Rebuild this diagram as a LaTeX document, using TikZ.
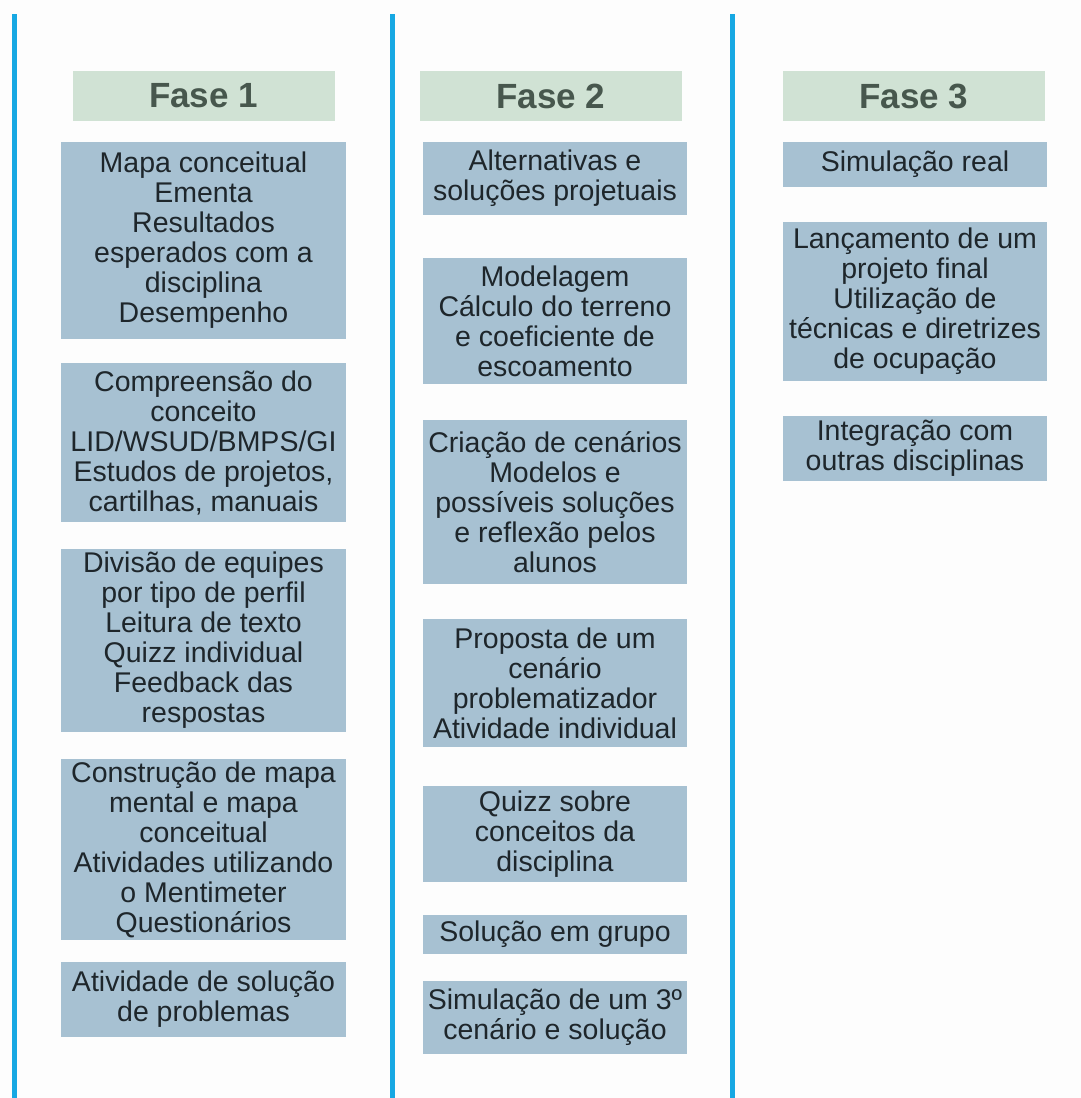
\documentclass[tikz,border=0pt]{standalone}
\usepackage{fontspec}
\setmainfont{Liberation Sans}
\definecolor{pagebg}{HTML}{FDFDFD}
\definecolor{divline}{HTML}{17A8E3}
\definecolor{headfill}{HTML}{D0E2D4}
\definecolor{headtext}{HTML}{47574D}
\definecolor{boxfill}{HTML}{A7C1D2}
\definecolor{boxtext}{HTML}{1E262B}

\begin{document}
\begin{tikzpicture}[x=1pt, y=-1pt,
    fasehead/.style={fill=headfill, text=headtext, font=\fontsize{35}{38}\selectfont\bfseries,
        minimum width=262pt, minimum height=50pt, inner sep=0pt},
    etapa/.style={fill=boxfill, text=boxtext, font=\fontsize{28.5}{30}\selectfont,
        align=center, inner sep=0pt}]
        % Page
        \fill[pagebg] (0,0) rectangle (1081,1098);
        \useasboundingbox (0,0) rectangle (1081,1098);

        % Column dividers
        \foreach \x in {14.5,392.5,732} {
            \draw[line width=5pt, divline] (\x,14) -- (\x,1098);
        }

        % Headers
        \node[fasehead] (fase1) at (203.5,96) {Fase 1};
        \node[fasehead] (fase2) at (551,96) {Fase 2};
        \node[fasehead] (fase3) at (914,96) {Fase 3};

        % Fase 1
        \node[etapa, minimum width=285pt, minimum height=197pt] (f1a) at (203.5,240.5)
            {Mapa conceitual\\Ementa\\Resultados\\esperados com a\\disciplina\\Desempenho};
        \node[etapa, minimum width=285pt, minimum height=159pt] (f1b) at (203.5,442.5)
            {Compreensão do\\conceito\\LID/WSUD/BMPS/GI\\Estudos de projetos,\\cartilhas, manuais};
        \node[etapa, minimum width=285pt, minimum height=183pt] (f1c) at (203.5,640.5)
            {Divisão de equipes\\por tipo de perfil\\Leitura de texto\\Quizz individual\\Feedback das\\respostas};
        \node[etapa, minimum width=285pt, minimum height=181pt] (f1d) at (203.5,849.5)
            {Construção de mapa\\mental e mapa\\conceitual\\Atividades utilizando\\o Mentimeter\\Questionários};
        \node[etapa, minimum width=285pt, minimum height=75pt] (f1e) at (203.5,999.5)
            {Atividade de solução\\de problemas};

        % Fase 2
        \node[etapa, minimum width=264pt, minimum height=73pt] (f2a) at (555,178.5)
            {Alternativas e\\soluções projetuais};
        \node[etapa, minimum width=264pt, minimum height=126pt] (f2b) at (555,321)
            {Modelagem\\Cálculo do terreno\\e coeficiente de\\escoamento};
        \node[etapa, minimum width=264pt, minimum height=164pt] (f2c) at (555,502)
            {Criação de cenários\\Modelos e\\possíveis soluções\\e reflexão pelos\\alunos};
        \node[etapa, minimum width=264pt, minimum height=128pt] (f2d) at (555,683)
            {Proposta de um\\cenário\\problematizador\\Atividade individual};
        \node[etapa, minimum width=264pt, minimum height=96pt] (f2e) at (555,834)
            {Quizz sobre\\conceitos da\\disciplina};
        \node[etapa, minimum width=264pt, minimum height=39pt] (f2f) at (555,934.5)
            {Solução em grupo};
        \node[etapa, minimum width=264pt, minimum height=73pt] (f2g) at (555,1017.5)
            {Simulação de um 3º\\cenário e solução};

        % Fase 3
        \node[etapa, minimum width=264pt, minimum height=45pt] (f3a) at (915,164.5)
            {Simulação real};
        \node[etapa, minimum width=264pt, minimum height=159pt] (f3b) at (915,301.5)
            {Lançamento de um\\projeto final\\Utilização de\\técnicas e diretrizes\\de ocupação};
        \node[etapa, minimum width=264pt, minimum height=65pt] (f3c) at (915,448.5)
            {Integração com\\outras disciplinas};
    \end{tikzpicture}
\end{document}
